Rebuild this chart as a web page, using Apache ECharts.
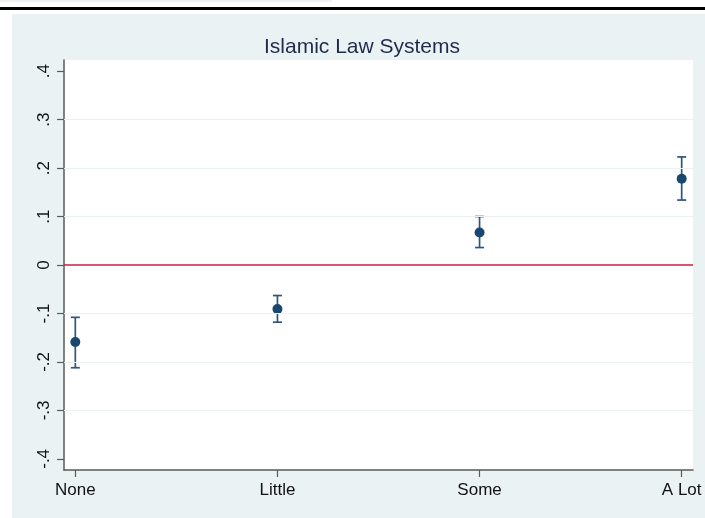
<!DOCTYPE html>
<html>
<head>
<meta charset="utf-8">
<title>Islamic Law Systems</title>
<script src="https://cdn.jsdelivr.net/npm/echarts@6/dist/echarts.min.js"></script>
<style>
  html, body { margin: 0; padding: 0; background: #ffffff; }
  #chart { width: 705px; height: 518px; }
</style>
</head>
<body>
<div id="chart"></div>
<script>
// Response categories along the x axis
const categories = ['None', 'Little', 'Some', 'A Lot'];
// Point estimates and 95% confidence bounds
const estimates = [-0.159, -0.091, 0.067, 0.178];
const lowerBounds = [-0.212, -0.118, 0.036, 0.134];
const upperBounds = [-0.108, -0.063, 0.100, 0.223];
// Axis ticks
const yTicks = [-0.4, -0.3, -0.2, -0.1, 0, 0.1, 0.2, 0.3, 0.4];
const yGridLines = [-0.3, -0.2, -0.1, 0.1, 0.2, 0.3];
const xTicks = [0, 1, 2, 3];

const navy = '#1A476F';
const barColor = '#2B5680';
const axisColor = '#5A5A5A';

function fmtY(v) {
  const r = Math.round(v * 10);
  if (r === 0) return '0';
  return (r < 0 ? '-' : '') + '.' + Math.abs(r);
}

const chart = echarts.init(document.getElementById('chart'), null, { renderer: 'canvas' });

const option = {
  backgroundColor: '#ffffff',
  animation: false,
  graphic: [
    { type: 'rect', z: -10, shape: { x: 0, y: 0, width: 332, height: 2 }, style: { fill: '#EEF2F4' } },
    { type: 'rect', z: -10, shape: { x: 0, y: 7, width: 705, height: 3 }, style: { fill: '#000000' } },
    { type: 'rect', z: -10, shape: { x: 12, y: 14, width: 693, height: 504 }, style: { fill: '#EAF2F3' } },
    { type: 'rect', z: -9, shape: { x: 64, y: 60, width: 629, height: 410 }, style: { fill: '#ffffff' } }
  ],
  title: {
    text: 'Islamic Law Systems',
    left: 259,
    top: 32,
    textStyle: {
      fontFamily: 'Liberation Sans, Arial, sans-serif',
      fontSize: 21,
      fontWeight: 'normal',
      color: '#1E2B4D'
    }
  },
  grid: { left: 64, right: 12, top: 60, bottom: 48, containLabel: false },
  xAxis: {
    type: 'value',
    min: -0.056,
    max: 3.056,
    axisLine: { show: true, onZero: false, lineStyle: { color: axisColor, width: 1.5 } },
    axisTick: { show: true, customValues: xTicks, length: 7, lineStyle: { color: axisColor, width: 1.2 } },
    axisLabel: {
      customValues: xTicks,
      margin: 12,
      fontFamily: 'Liberation Sans, Arial, sans-serif',
      fontSize: 17,
      color: '#111111',
      formatter: v => categories[Math.round(v)]
    },
    splitLine: { show: false }
  },
  yAxis: {
    type: 'value',
    min: -0.423,
    max: 0.423,
    axisLine: { show: true, onZero: false, lineStyle: { color: axisColor, width: 1.5 } },
    axisTick: { show: true, customValues: yTicks, length: 7, lineStyle: { color: axisColor, width: 1.2 } },
    axisLabel: {
      customValues: yTicks,
      rotate: 90,
      margin: 11,
      fontFamily: 'Liberation Sans, Arial, sans-serif',
      fontSize: 17,
      color: '#111111',
      formatter: fmtY
    },
    splitLine: { show: false }
  },
  series: [
    {
      name: 'grid',
      type: 'line',
      data: [],
      silent: true,
      markLine: {
        silent: true,
        symbol: 'none',
        label: { show: false },
        lineStyle: { color: '#EAF1F2', width: 1.2, type: 'solid' },
        data: yGridLines.map(v => ({ yAxis: v }))
      }
    },
    {
      name: 'zero',
      type: 'line',
      data: [],
      silent: true,
      markLine: {
        silent: true,
        symbol: 'none',
        label: { show: false },
        lineStyle: { color: '#C8203F', width: 1.5, type: 'solid' },
        data: [{ yAxis: 0 }]
      }
    },
    {
      name: 'ci',
      type: 'custom',
      z: 3,
      data: categories.map((c, i) => [i, lowerBounds[i], upperBounds[i]]),
      renderItem: function (params, api) {
        const x = api.value(0);
        const lo = api.coord([x, api.value(1)]);
        const hi = api.coord([x, api.value(2)]);
        const cap = 4.5;
        const style = { stroke: barColor, lineWidth: 1.7 };
        return {
          type: 'group',
          children: [
            { type: 'line', shape: { x1: lo[0], y1: lo[1], x2: hi[0], y2: hi[1] }, style: style },
            { type: 'line', shape: { x1: lo[0] - cap, y1: lo[1], x2: lo[0] + cap, y2: lo[1] }, style: style },
            { type: 'line', shape: { x1: hi[0] - cap, y1: hi[1], x2: hi[0] + cap, y2: hi[1] }, style: style }
          ]
        };
      }
    },
    {
      name: 'estimate',
      type: 'scatter',
      z: 4,
      symbol: 'circle',
      symbolSize: 10,
      itemStyle: { color: navy, opacity: 1 },
      data: estimates.map((v, i) => [i, v])
    }
  ]
};

chart.setOption(option);
</script>
</body>
</html>
